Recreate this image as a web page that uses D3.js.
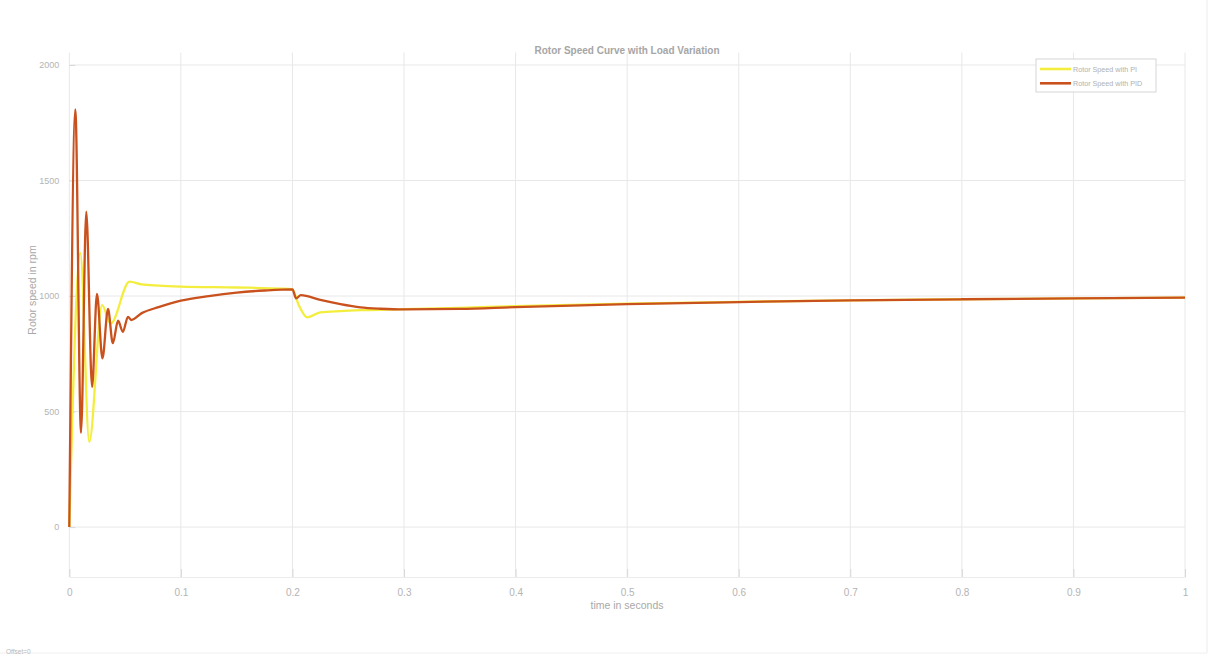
<!DOCTYPE html>
<html>
<head>
<meta charset="utf-8">
<script src="https://cdn.jsdelivr.net/npm/d3@7"></script>
<style>
  body { margin: 0; background: #fff; }
  svg { display: block; font-family: "Liberation Sans", Arial, sans-serif; }
</style>
</head>
<body>
<div class="chart"></div>
<script>
// data
var xTicks = [0, 0.1, 0.2, 0.3, 0.4, 0.5, 0.6, 0.7, 0.8, 0.9, 1];
var yTicks = [0, 500, 1000, 1500, 2000];

var piTime  = [0, 0.0099, 0.0179, 0.0294, 0.037, 0.054, 0.065, 0.08, 0.1, 0.15, 0.19, 0.2,
               0.2056, 0.2132, 0.225, 0.243, 0.2635, 0.3, 0.35, 0.4, 0.5, 0.6, 0.7, 0.8, 0.9, 1];
var piSpeed = [0, 1186, 369, 961, 880, 1062, 1050, 1045, 1041, 1037, 1032, 1029,
               961, 908, 929, 935, 939, 943, 949, 956, 967, 975, 981, 986, 990, 993];

var pidTime  = [0, 0.0054, 0.0105, 0.0152, 0.0204, 0.0248, 0.0297, 0.0347, 0.039, 0.0437, 0.048,
                0.0526, 0.0555, 0.065, 0.08, 0.1, 0.125, 0.15, 0.175, 0.2, 0.2033, 0.2075,
                0.225, 0.243, 0.261, 0.279, 0.3, 0.35, 0.4, 0.5, 0.6, 0.7, 0.8, 0.9, 1];
var pidSpeed = [0, 1808, 408, 1365, 607, 1009, 730, 944, 796, 893, 845,
                910, 896, 926, 952, 980, 1000, 1015, 1024, 1029, 990, 1004,
                983, 965, 951, 945, 942, 944, 952, 965, 974, 981, 986, 990, 993];

var seriesNames = ["Rotor Speed with PI", "Rotor Speed with PID"];
var seriesColors = ["#f3ee3e", "#c9511d"];

var svgWidth = 1214;
var svgHeight = 656;

var svg = d3.select(".chart")
  .append("svg")
  .attr("width", svgWidth)
  .attr("height", svgHeight);

// faint figure border
svg.append("line").attr("x1", 1207).attr("x2", 1207).attr("y1", 0).attr("y2", 653)
  .attr("stroke", "#ececec");
svg.append("line").attr("x1", 0).attr("x2", 1207).attr("y1", 653).attr("y2", 653)
  .attr("stroke", "#f0f0f0");

var x = d3.scaleLinear().domain([0, 1]).range([69.3, 1185]);
var y = d3.scaleLinear().domain([-216, 2054]).range([577, 52.5]);

// grid
svg.append("g")
  .selectAll("line")
  .data(xTicks)
  .enter()
  .append("line")
  .attr("x1", d => x(d)).attr("x2", d => x(d))
  .attr("y1", y.range()[0]).attr("y2", y.range()[1])
  .attr("stroke", "#e8e8e8");

svg.append("g")
  .selectAll("line")
  .data(yTicks)
  .enter()
  .append("line")
  .attr("x1", x.range()[0]).attr("x2", x.range()[1])
  .attr("y1", d => y(d)).attr("y2", d => y(d))
  .attr("stroke", "#e8e8e8");

// axes
var bottomAxis = d3.axisBottom(x).tickValues(xTicks).tickSize(-8).tickPadding(12)
  .tickFormat(d3.format("~g"));
var leftAxis = d3.axisLeft(y).tickValues(yTicks).tickSize(-6).tickPadding(10)
  .tickFormat(d3.format("d"));

var xAxis = svg.append("g")
  .attr("transform", `translate(0, ${y.range()[0]})`)
  .call(bottomAxis);
var yAxis = svg.append("g")
  .attr("transform", `translate(${x.range()[0]}, 0)`)
  .call(leftAxis);

[xAxis, yAxis].forEach(function (ax) {
  ax.selectAll("text").attr("fill", "#b4b4b4")
    .attr("font-family", "Liberation Sans, Arial, sans-serif");
  ax.selectAll("line").attr("stroke", "#d8d8d8");
  ax.select(".domain").attr("stroke", "#ececec");
});
xAxis.selectAll("text").attr("font-size", "10px");
yAxis.selectAll("text").attr("font-size", "9px");
yAxis.select(".domain").remove();

// curves
var line = d3.line()
  .x(d => x(d[0]))
  .y(d => y(d[1]))
  .curve(d3.curveMonotoneX);

var piData = piTime.map((t, i) => [t, piSpeed[i]]);
var pidData = pidTime.map((t, i) => [t, pidSpeed[i]]);

svg.append("path")
  .datum(piData)
  .attr("d", line)
  .attr("fill", "none")
  .attr("stroke", seriesColors[0])
  .attr("stroke-width", 2.3)
  .attr("stroke-linejoin", "round");

svg.append("path")
  .datum(pidData)
  .attr("d", line)
  .attr("fill", "none")
  .attr("stroke", seriesColors[1])
  .attr("stroke-width", 2.3)
  .attr("stroke-linejoin", "round");

// title and labels
svg.append("text")
  .attr("x", 627).attr("y", 54)
  .attr("text-anchor", "middle")
  .attr("font-size", "10px")
  .attr("font-weight", "bold")
  .attr("fill", "#a6a6a6")
  .text("Rotor Speed Curve with Load Variation");

svg.append("text")
  .attr("x", 627).attr("y", 609)
  .attr("text-anchor", "middle")
  .attr("font-size", "10.5px")
  .attr("fill", "#a8a8a8")
  .text("time in seconds");

svg.append("text")
  .attr("transform", "translate(36, 290) rotate(-90)")
  .attr("text-anchor", "middle")
  .attr("font-size", "10.5px")
  .attr("fill", "#a8a8a8")
  .text("Rotor speed in rpm");

svg.append("text")
  .attr("x", 6).attr("y", 654)
  .attr("font-size", "6.5px")
  .attr("fill", "#b8b8b8")
  .text("Offset=0");

// legend
var legend = svg.append("g").attr("transform", "translate(1036, 59)");
legend.append("rect")
  .attr("width", 120).attr("height", 33)
  .attr("fill", "#fff")
  .attr("stroke", "#d6d6d6");

seriesNames.forEach(function (name, i) {
  var ly = 10 + i * 14.3;
  legend.append("line")
    .attr("x1", 4).attr("x2", 35)
    .attr("y1", ly).attr("y2", ly)
    .attr("stroke", seriesColors[i])
    .attr("stroke-width", 2.6);
  legend.append("text")
    .attr("x", 37).attr("y", ly + 2.5)
    .attr("font-size", "7.2px")
    .attr("fill", "#b0b0b0")
    .text(name);
});
</script>
</body>
</html>
